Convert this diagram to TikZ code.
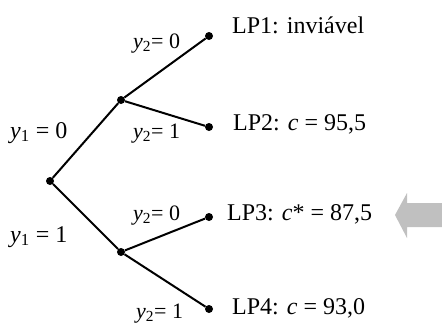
\documentclass[tikz,border=0pt]{standalone}
\usepackage{fontspec}
\setmainfont{Liberation Serif}
\usetikzlibrary{calc, positioning}
\definecolor{arrowgray}{RGB}{192,192,192}

\begin{document}
\begin{tikzpicture}[x=1pt,y=-1pt,
    dot/.style={circle,fill,inner sep=0pt,minimum size=8pt},
    branch/.style={line width=2pt},
    lp/.style={anchor=base west,inner sep=0pt,font=\fontsize{24}{28}\selectfont},
    ylab/.style={anchor=base west,inner sep=0pt,font=\fontsize{24}{28}\selectfont},
    ylabs/.style={anchor=base west,inner sep=0pt,font=\fontsize{22}{26}\selectfont}]
      \useasboundingbox (0,0) rectangle (442,324);
      % tree
      \node[dot] (root) at (50,181) {};
      \node[dot] (up) at (121,100) {};
      \node[dot] (down) at (121,252) {};
      \node[dot] (lp1) at (209,36) {};
      \node[dot] (lp2) at (209,127) {};
      \node[dot] (lp3) at (209,217) {};
      \node[dot] (lp4) at (209,309) {};
      \draw[branch] (root) -- (up);
      \draw[branch] (root) -- (down);
      \draw[branch] (up) -- (lp1);
      \draw[branch] (up) -- (lp2);
      \draw[branch] (down) -- (lp3);
      \draw[branch] (down) -- (lp4);
      % branch labels
      \node[ylab] (y1a) at (10,138) {\textit{y}\textsubscript{1} = 0};
      \node[ylab] (y1b) at (10,242) {\textit{y}\textsubscript{1} = 1};
      \node[ylabs] (y2a) at (133,48) {\textit{y}\textsubscript{2}= 0};
      \node[ylabs] (y2b) at (133,138) {\textit{y}\textsubscript{2}= 1};
      \node[ylabs] (y2c) at (133,220) {\textit{y}\textsubscript{2}= 0};
      \node[ylabs] (y2d) at (136,318) {\textit{y}\textsubscript{2}= 1};
      % subproblems
      \node[lp] (t1) at (232,33) {LP1: inviável};
      \node[lp] (t2) at (233,130) {LP2: \textit{c} = 95,5};
      \node[lp] (t3) at (227,220) {LP3: \textit{c}* = 87,5};
      \node[lp] (t4) at (232,314) {LP4: \textit{c} = 93,0};
      % best bound marker
      \fill[arrowgray] (395,215) -- (407,193) -- (407,203) -- (442,203)
        -- (442,227) -- (407,227) -- (407,238) -- cycle;
\end{tikzpicture}
\end{document}
